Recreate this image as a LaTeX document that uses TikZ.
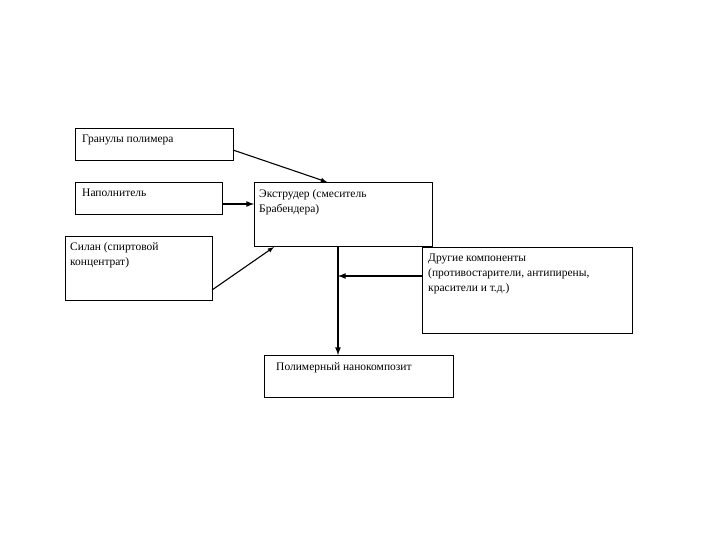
\documentclass[tikz,border=0pt]{standalone}
\usepackage{fontspec}
\setmainfont{Liberation Serif}
\begin{document}
\begin{tikzpicture}[x=1pt,y=-1pt,
  box/.style={draw,line width=0.8pt},
  lbl/.style={anchor=north west,inner sep=0pt,font=\fontsize{11.5}{15}\selectfont,align=left},
  arr/.style={draw,line width=1.6pt,-latex}]
\useasboundingbox (0,0) rectangle (720,540);
\draw[box] (75,128) rectangle (233,160);
\draw[box] (75,182) rectangle (222,214);
\draw[box] (65,236) rectangle (212,300);
\draw[box] (254,182) rectangle (432,246);
\draw[box] (422,247) rectangle (632,333);
\draw[box] (264,355) rectangle (453,397);
\node[lbl] (g) at (82,135) {Гранулы полимера};
\node[lbl] (n) at (82,189) {Наполнитель};
\node[lbl] (s) at (70,242) {Силан (спиртовой\\концентрат)};
\node[lbl] (e) at (259,189) {Экструдер (смеситель\\Брабендера)};
\node[lbl] (d) at (428,254) {Другие компоненты\\(противостарители, антипирены,\\красители и т.д.)};
\node[lbl] (p) at (276,362) {Полимерный нанокомпозит};
\coordinate (g1) at (233,150); \coordinate (g2) at (327,182);
\coordinate (n1) at (222,204); \coordinate (n2) at (254,204);
\coordinate (s1) at (212,290); \coordinate (s2) at (274,247);
\coordinate (v1) at (338,246); \coordinate (v2) at (338,355);
\coordinate (d1) at (422,276); \coordinate (d2) at (338,276);
\draw[arr,line width=1.1pt] (g1) -- (g2);
\draw[arr] (n1) -- (n2);
\draw[arr,line width=1.1pt] (s1) -- (s2);
\draw[arr] (v1) -- (v2);
\draw[arr] (d1) -- (d2);
\end{tikzpicture}
\end{document}
